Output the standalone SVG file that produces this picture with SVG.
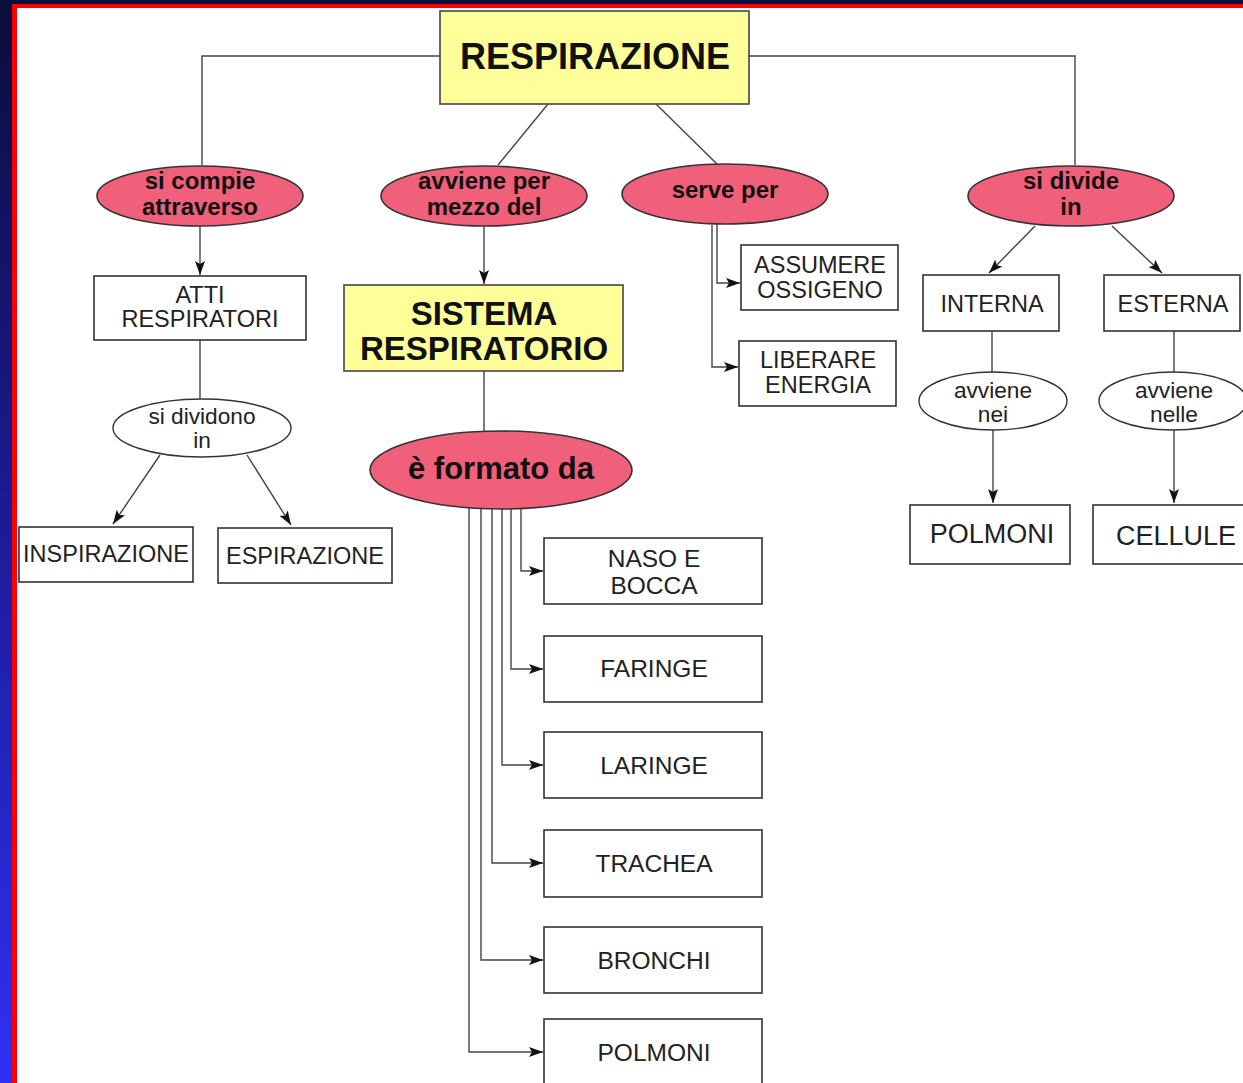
<svg xmlns="http://www.w3.org/2000/svg" width="1243" height="1083" viewBox="0 0 1243 1083">
<defs>
<linearGradient id="side" x1="0" y1="0" x2="0" y2="1">
<stop offset="0" stop-color="#0b0d3a"/>
<stop offset="0.5" stop-color="#1c1c9a"/>
<stop offset="1" stop-color="#3030f5"/>
</linearGradient>
<marker id="arr" viewBox="0 0 14 10" refX="14" refY="5" markerWidth="14" markerHeight="10" markerUnits="userSpaceOnUse" orient="auto">
<path d="M0,0 L14,5 L0,10 L3,5 Z" fill="#111"/>
</marker>
<style>
.bx{fill:#fff;stroke:#333;stroke-width:1.6}
.yl{fill:#ffff99;stroke:#444;stroke-width:1.6}
.pk{fill:#f0607a;stroke:#333;stroke-width:1.6}
.wl{fill:#fff;stroke:#333;stroke-width:1.4}
.ln{fill:none;stroke:#444;stroke-width:1.4}
.t{font-family:"Liberation Sans",Arial,sans-serif;fill:#222;text-anchor:middle;font-size:23.5px}
.tb{font-family:"Liberation Sans",Arial,sans-serif;fill:#111;text-anchor:middle;font-weight:bold;font-size:24px}
.org{font-size:24.5px}
.el{font-size:22.7px}
</style>
</defs>
<rect x="0" y="0" width="1243" height="1083" fill="#fff"/>
<rect x="0" y="0" width="12" height="1083" fill="url(#side)"/>
<rect x="0" y="0" width="1243" height="4" fill="#0b0d3a"/>
<rect x="12" y="4" width="5" height="1079" fill="#ff0000"/>
<rect x="12" y="4" width="1231" height="4" fill="#ff0000"/>

<g id="connectors">
<path class="ln" d="M440,56 H202 V165"/>
<path class="ln" d="M749,56 H1075 V165"/>
<path class="ln" d="M548,104 L498,165"/>
<path class="ln" d="M656,104 L718,165"/>
<path class="ln" d="M200,226 V275" marker-end="url(#arr)"/>
<path class="ln" d="M200,340 V399"/>
<path class="ln" d="M160,455 L113,524" marker-end="url(#arr)"/>
<path class="ln" d="M247,455 L291,525" marker-end="url(#arr)"/>
<path class="ln" d="M484,226 V284" marker-end="url(#arr)"/>
<path class="ln" d="M484,371 V432"/>
<path class="ln" d="M521,508 V571 H543" marker-end="url(#arr)"/>
<path class="ln" d="M511,508 V669 H543" marker-end="url(#arr)"/>
<path class="ln" d="M502,509 V765 H543" marker-end="url(#arr)"/>
<path class="ln" d="M492,509 V863 H543" marker-end="url(#arr)"/>
<path class="ln" d="M481,509 V960 H543" marker-end="url(#arr)"/>
<path class="ln" d="M469,508 V1052 H543" marker-end="url(#arr)"/>
<path class="ln" d="M717,224 V283 H740" marker-end="url(#arr)"/>
<path class="ln" d="M712,225 V367 H738" marker-end="url(#arr)"/>
<path class="ln" d="M1035,226 L989,273" marker-end="url(#arr)"/>
<path class="ln" d="M1112,226 L1162,273" marker-end="url(#arr)"/>
<path class="ln" d="M992,331 V372"/>
<path class="ln" d="M993,430 V503" marker-end="url(#arr)"/>
<path class="ln" d="M1174,331 V372"/>
<path class="ln" d="M1174,430 V503" marker-end="url(#arr)"/>
</g>

<g id="respirazione">
<rect class="yl" x="440" y="11" width="309" height="93"/>
<text class="tb" x="595" y="69" style="font-size:36px">RESPIRAZIONE</text>
</g>
<g id="si-compie">
<ellipse class="pk" cx="200" cy="196" rx="103" ry="30"/>
<text class="tb" x="200" y="189">si compie</text>
<text class="tb" x="200" y="215">attraverso</text>
</g>
<g id="avviene-per">
<ellipse class="pk" cx="484" cy="196" rx="103" ry="30"/>
<text class="tb" x="484" y="189">avviene per</text>
<text class="tb" x="484" y="215">mezzo del</text>
</g>
<g id="serve-per">
<ellipse class="pk" cx="725" cy="194" rx="103" ry="30"/>
<text class="tb" x="725" y="198">serve per</text>
</g>
<g id="si-divide">
<ellipse class="pk" cx="1071" cy="196" rx="103" ry="30"/>
<text class="tb" x="1071" y="189">si divide</text>
<text class="tb" x="1071" y="215">in</text>
</g>
<g id="atti">
<rect class="bx" x="94" y="276" width="212" height="64"/>
<text class="t" x="200" y="303">ATTI</text>
<text class="t" x="200" y="327">RESPIRATORI</text>
</g>
<g id="si-dividono">
<ellipse class="wl" cx="202" cy="428" rx="89" ry="29"/>
<text class="t el" x="202" y="424">si dividono</text>
<text class="t el" x="202" y="448">in</text>
</g>
<g id="inspirazione">
<rect class="bx" x="19" y="527" width="174" height="55"/>
<text class="t" x="106" y="562">INSPIRAZIONE</text>
</g>
<g id="espirazione">
<rect class="bx" x="218" y="528" width="174" height="55"/>
<text class="t" x="305" y="564">ESPIRAZIONE</text>
</g>
<g id="sistema">
<rect class="yl" x="344" y="285" width="279" height="86"/>
<text class="tb" x="484" y="325" style="font-size:33px">SISTEMA</text>
<text class="tb" x="484" y="360" style="font-size:33px">RESPIRATORIO</text>
</g>
<g id="formato">
<ellipse class="pk" cx="501" cy="470" rx="131" ry="39"/>
<text class="tb" x="501" y="479" style="font-size:31px">è formato da</text>
</g>
<g id="naso">
<rect class="bx" x="544" y="538" width="218" height="66"/>
<text class="t org" x="654" y="567">NASO E</text>
<text class="t org" x="654" y="594">BOCCA</text>
</g>
<g id="faringe">
<rect class="bx" x="544" y="636" width="218" height="66"/>
<text class="t org" x="654" y="677">FARINGE</text>
</g>
<g id="laringe">
<rect class="bx" x="544" y="732" width="218" height="66"/>
<text class="t org" x="654" y="774">LARINGE</text>
</g>
<g id="trachea">
<rect class="bx" x="544" y="830" width="218" height="67"/>
<text class="t org" x="654" y="872">TRACHEA</text>
</g>
<g id="bronchi">
<rect class="bx" x="544" y="927" width="218" height="66"/>
<text class="t org" x="654" y="969">BRONCHI</text>
</g>
<g id="polmoni-organo">
<rect class="bx" x="544" y="1019" width="218" height="80"/>
<text class="t org" x="654" y="1061">POLMONI</text>
</g>
<g id="assumere">
<rect class="bx" x="741" y="245" width="157" height="65"/>
<text class="t" x="820" y="273">ASSUMERE</text>
<text class="t" x="820" y="298">OSSIGENO</text>
</g>
<g id="liberare">
<rect class="bx" x="739" y="341" width="157" height="65"/>
<text class="t" x="818" y="368">LIBERARE</text>
<text class="t" x="818" y="393">ENERGIA</text>
</g>
<g id="interna">
<rect class="bx" x="923" y="275" width="136" height="56"/>
<text class="t" x="992" y="312">INTERNA</text>
</g>
<g id="esterna">
<rect class="bx" x="1104" y="275" width="136" height="56"/>
<text class="t" x="1173" y="312">ESTERNA</text>
</g>
<g id="avviene-nei">
<ellipse class="wl" cx="993" cy="401" rx="74" ry="29"/>
<text class="t el" x="993" y="398">avviene</text>
<text class="t el" x="993" y="422">nei</text>
</g>
<g id="avviene-nelle">
<ellipse class="wl" cx="1173" cy="401" rx="74" ry="29"/>
<text class="t el" x="1174" y="398">avviene</text>
<text class="t el" x="1174" y="422">nelle</text>
</g>
<g id="polmoni">
<rect class="bx" x="910" y="505" width="160" height="59"/>
<text class="t" x="992" y="543" style="font-size:27px">POLMONI</text>
</g>
<g id="cellule">
<rect class="bx" x="1093" y="505" width="160" height="59"/>
<text class="t" x="1176" y="545" style="font-size:27px">CELLULE</text>
</g>
</svg>
